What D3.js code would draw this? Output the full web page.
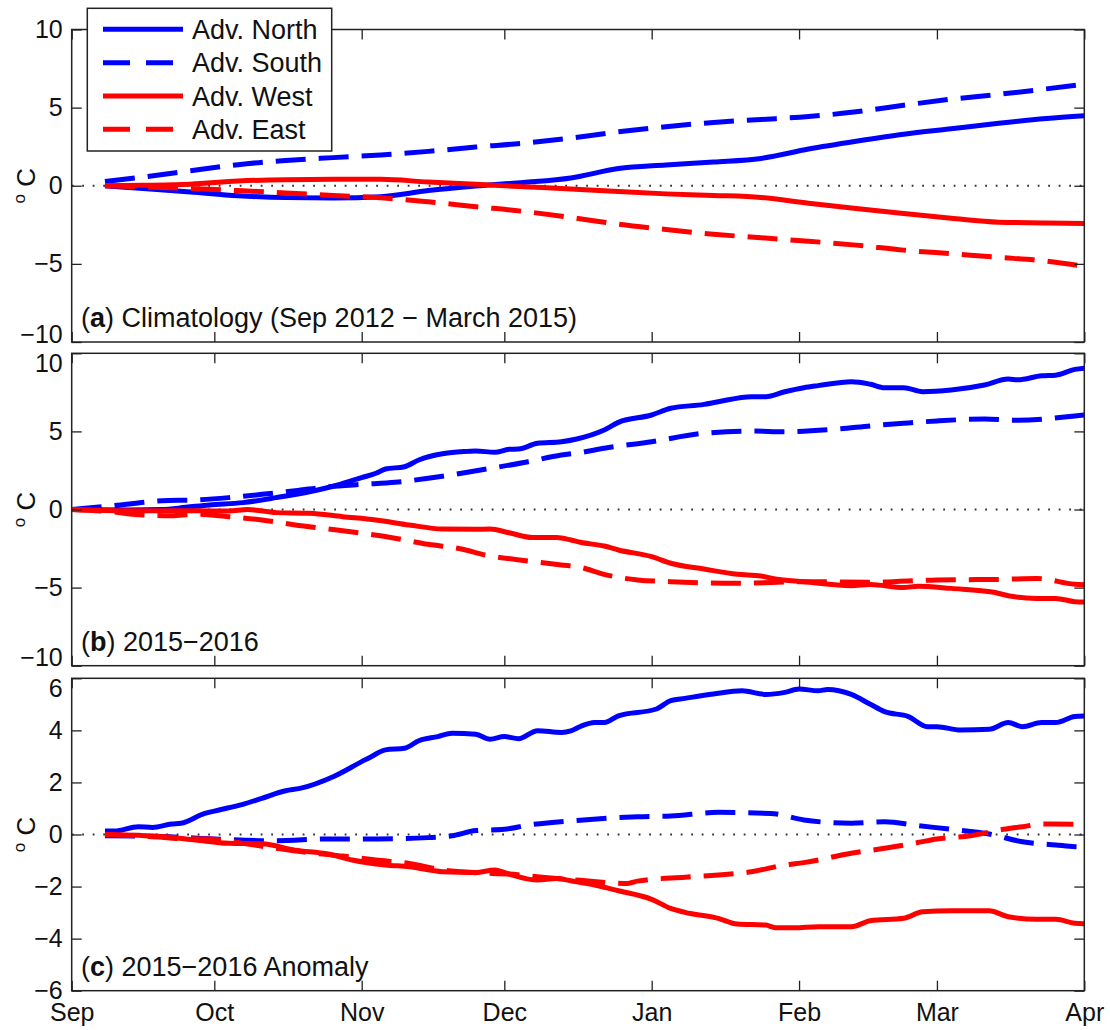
<!DOCTYPE html>
<html>
<head>
<meta charset="utf-8">
<script src="https://cdn.jsdelivr.net/npm/d3@7"></script>
<style>
  body { margin: 0; background: #fff; }
  text { font-family: "Liberation Sans", Arial, Helvetica, sans-serif; fill: #111; }
</style>
</head>
<body>
<svg id="chart" width="1110" height="1030"></svg>
<script>
// Time axis: days counted from 1 Sep 2015 up to 1 Apr 2016
const seasonStart = Date.UTC(2015, 8, 1);
const seasonEnd = Date.UTC(2016, 3, 1);
const monthLabels = ["Sep", "Oct", "Nov", "Dec", "Jan", "Feb", "Mar", "Apr"];

const seriesNames = ["Adv. North", "Adv. South", "Adv. West", "Adv. East"];
const seriesColors = ["#0000ff", "#0000ff", "#ff0000", "#ff0000"];
const seriesDashed = [false, true, false, true];

const yTicksWide = [-10, -5, 0, 5, 10];
const yTicksAnomaly = [-6, -4, -2, 0, 2, 4, 6];

// (a) climatology, Sep 2012 - March 2015  [day, °C]
const climNorth = [[7,0],[15,-0.18],[25,-0.4],[35,-0.64],[45,-0.76],[55,-0.78],[65,-0.7],[75,-0.31],[85,-0.02],[95,0.21],[105,0.5],[115,1.1],[125,1.33],[135,1.52],[145,1.75],[155,2.35],[165,2.85],[175,3.3],[185,3.65],[195,4.0],[205,4.3],[213,4.48]];
const climSouth = [[7,0.27],[15,0.56],[25,0.96],[35,1.35],[45,1.62],[55,1.8],[65,1.97],[75,2.2],[85,2.48],[95,2.72],[105,3.05],[115,3.45],[125,3.78],[135,4.05],[145,4.24],[155,4.43],[165,4.73],[175,5.15],[185,5.54],[195,5.85],[205,6.2],[213,6.5]];
const climWest = [[7,0],[15,0.03],[25,0.1],[35,0.3],[45,0.39],[55,0.41],[65,0.41],[75,0.24],[85,0.09],[95,-0.06],[105,-0.21],[115,-0.37],[125,-0.52],[135,-0.62],[145,-0.75],[155,-1.12],[165,-1.46],[175,-1.78],[185,-2.08],[195,-2.33],[205,-2.38],[213,-2.42]];
const climEast = [[7,0],[15,-0.08],[25,-0.18],[35,-0.31],[45,-0.46],[55,-0.62],[65,-0.77],[75,-1.03],[85,-1.34],[95,-1.64],[105,-2.03],[115,-2.46],[125,-2.8],[135,-3.1],[145,-3.33],[155,-3.55],[165,-3.8],[175,-4.12],[185,-4.35],[195,-4.58],[205,-4.82],[213,-5.15]];

// (b) 2015-2016  [day, °C]
const northSeason = [[0,0],[12,-0.03],[19,0],[24,0.14],[29,0.29],[36,0.44],[43,0.76],[50,1.14],[56,1.57],[61,2.04],[64,2.32],[66,2.59],[70,2.74],[73,3.17],[78,3.57],[82,3.7],[85,3.75],[89,3.66],[92,3.85],[94,3.87],[98,4.24],[103,4.34],[106,4.5],[112,5.09],[115,5.58],[122,6.05],[126,6.48],[133,6.73],[136,6.9],[143,7.22],[146,7.22],[150,7.54],[154,7.8],[157,7.93],[164,8.18],[168,8.02],[171,7.8],[175,7.8],[179,7.54],[185,7.65],[192,7.97],[197,8.35],[199,8.3],[204,8.56],[207,8.6],[211,8.97],[213,9.05]];
const southSeason = [[0,0],[8,0.22],[19,0.56],[26,0.61],[33,0.76],[40,0.97],[47,1.2],[54,1.46],[61,1.61],[68,1.74],[75,2.0],[82,2.32],[89,2.68],[96,3.06],[103,3.49],[107,3.65],[112,3.92],[122,4.34],[133,4.88],[143,5.02],[150,4.98],[161,5.15],[168,5.35],[175,5.52],[182,5.67],[192,5.79],[199,5.71],[211,5.99],[213,6.05]];
const westSeason = [[0,0],[12,-0.08],[26,-0.08],[33,-0.1],[37,0],[43,-0.2],[50,-0.24],[57,-0.46],[64,-0.67],[71,-0.99],[78,-1.25],[85,-1.27],[88,-1.25],[92,-1.49],[97,-1.8],[102,-1.8],[105,-1.95],[107,-2.1],[112,-2.34],[115,-2.59],[122,-3.02],[126,-3.44],[133,-3.81],[140,-4.15],[145,-4.26],[148,-4.45],[154,-4.62],[164,-4.88],[168,-4.8],[175,-5.0],[178,-4.91],[185,-5.05],[194,-5.3],[197,-5.52],[203,-5.69],[207,-5.69],[211,-5.9],[213,-5.92]];
const eastSeason = [[0,0],[8,-0.14],[15,-0.35],[21,-0.4],[26,-0.3],[33,-0.46],[40,-0.67],[47,-0.99],[54,-1.25],[61,-1.52],[68,-1.84],[75,-2.23],[82,-2.53],[87,-2.91],[96,-3.3],[103,-3.55],[107,-3.7],[112,-4.15],[119,-4.51],[126,-4.62],[140,-4.72],[154,-4.62],[168,-4.66],[182,-4.51],[196,-4.47],[203,-4.41],[211,-4.79],[213,-4.82]];

// (c) 2015-2016 anomaly  [day, °C]
const northAnom = [[7,0.13],[9,0.13],[14,0.3],[17,0.27],[21,0.4],[23,0.43],[28,0.81],[31,0.94],[36,1.16],[40,1.39],[45,1.68],[48,1.77],[55,2.22],[61,2.8],[63,2.99],[66,3.25],[70,3.31],[73,3.6],[77,3.76],[80,3.89],[85,3.85],[88,3.66],[91,3.76],[94,3.68],[98,3.99],[103,3.92],[105,3.98],[107,4.15],[110,4.3],[112,4.3],[115,4.56],[123,4.82],[126,5.14],[129,5.23],[135,5.4],[141,5.52],[146,5.38],[150,5.46],[153,5.59],[157,5.52],[159,5.57],[164,5.38],[168,5.0],[171,4.72],[176,4.53],[180,4.14],[182,4.14],[187,4.01],[193,4.04],[197,4.3],[200,4.14],[204,4.3],[207,4.3],[211,4.53],[213,4.55]];
const southAnom = [[7,-0.05],[19,-0.08],[31,-0.18],[43,-0.24],[54,-0.17],[64,-0.17],[75,-0.12],[80,-0.05],[85,0.15],[91,0.2],[96,0.36],[107,0.55],[119,0.68],[126,0.71],[136,0.85],[147,0.81],[154,0.56],[164,0.43],[171,0.49],[178,0.34],[185,0.2],[193,0.02],[200,-0.28],[207,-0.4],[211,-0.47],[213,-0.48]];
const westAnom = [[7,0],[19,-0.08],[26,-0.21],[33,-0.34],[40,-0.36],[47,-0.6],[54,-0.75],[59,-0.98],[66,-1.17],[71,-1.24],[78,-1.43],[85,-1.46],[89,-1.36],[92,-1.52],[98,-1.75],[102,-1.69],[105,-1.78],[110,-1.94],[115,-2.16],[122,-2.49],[126,-2.84],[129,-2.99],[136,-3.22],[140,-3.44],[146,-3.48],[148,-3.58],[152,-3.58],[157,-3.54],[164,-3.54],[168,-3.31],[175,-3.22],[179,-2.97],[185,-2.93],[193,-2.93],[197,-3.16],[203,-3.26],[207,-3.26],[211,-3.41],[213,-3.43]];
const eastAnom = [[7,0],[19,-0.11],[22,-0.15],[29,-0.17],[36,-0.34],[43,-0.53],[50,-0.7],[57,-0.83],[64,-0.98],[71,-1.11],[78,-1.36],[85,-1.47],[92,-1.52],[99,-1.64],[107,-1.76],[117,-1.88],[119,-1.79],[129,-1.64],[136,-1.56],[143,-1.43],[150,-1.17],[154,-1.08],[164,-0.72],[171,-0.53],[178,-0.31],[182,-0.17],[189,-0.05],[196,0.2],[200,0.3],[204,0.4],[211,0.39],[213,0.38]];

// nudgeTop / nudgeBottom keep the extreme tick labels clear of the neighbouring panels
const panels = [
  { tag: "a", title: " Climatology (Sep 2012 \u2212 March 2015)", domain: [-10, 10], ticks: yTicksWide,
    series: [climNorth, climSouth, climWest, climEast], top: 29.5, bottom: 342, nudgeTop: 0, nudgeBottom: -8 },
  { tag: "b", title: " 2015\u22122016", domain: [-10, 10], ticks: yTicksWide,
    series: [northSeason, southSeason, westSeason, eastSeason], top: 353.3, bottom: 665.7, nudgeTop: 10, nudgeBottom: -8 },
  { tag: "c", title: " 2015\u22122016 Anomaly", domain: [-6, 6], ticks: yTicksAnomaly,
    series: [northAnom, southAnom, westAnom, eastAnom], top: 678.3, bottom: 990.7, nudgeTop: 10, nudgeBottom: 0 }
];

const left = 71.7, right = 1084.3;
const svg = d3.select("#chart");
const x = d3.scaleUtc().domain([seasonStart, seasonEnd]).range([left, right]);
const dayToDate = d => new Date(seasonStart + d * 86400000);
const monthTicks = d3.utcMonth.range(seasonStart, seasonEnd + 1);

const frameColor = "#222";
const tickFont = 25;
const textFont = 27;

panels.forEach((p, pi) => {
  const y = d3.scaleLinear().domain(p.domain).range([p.bottom, p.top]);
  const g = svg.append("g");

  // zero reference line
  g.append("line")
    .attr("x1", x(seasonStart)).attr("x2", x(seasonEnd))
    .attr("y1", y(0)).attr("y2", y(0))
    .attr("stroke", "#333").attr("stroke-width", 1.8)
    .attr("stroke-dasharray", "1.8 8.7");

  // series lines
  const line = d3.line()
    .x(d => x(dayToDate(d[0])))
    .y(d => y(d[1]))
    .curve(d3.curveMonotoneX);

  p.series.forEach((data, si) => {
    g.append("path")
      .datum(data)
      .attr("d", line)
      .attr("fill", "none")
      .attr("stroke", seriesColors[si])
      .attr("stroke-width", 5)
      .attr("stroke-linejoin", "round")
      .attr("stroke-dasharray", seriesDashed[si] ? "30 13" : null);
  });

  // axes with inward ticks
  const styleAxis = sel => {
    sel.select(".domain").remove();
    sel.selectAll(".tick line").attr("stroke", frameColor).attr("stroke-width", 1.3);
    sel.selectAll(".tick text").attr("font-size", tickFont)
      .attr("font-family", "'Liberation Sans', Arial, sans-serif").attr("fill", "#111");
  };

  const yMax = d3.max(p.ticks), yMin = d3.min(p.ticks);
  g.append("g").attr("transform", `translate(${left},0)`)
    .call(d3.axisLeft(y).tickValues(p.ticks).tickSize(-10).tickPadding(9)
      .tickFormat(d => d < 0 ? "\u2212" + Math.abs(d) : String(d)))
    .call(styleAxis)
    .call(sel => sel.selectAll(".tick text")
      .attr("y", d => d === yMax ? p.nudgeTop : d === yMin ? p.nudgeBottom : 0));
  g.append("g").attr("transform", `translate(${right},0)`)
    .call(d3.axisRight(y).tickValues(p.ticks).tickSize(-10).tickFormat(""))
    .call(styleAxis);
  g.append("g").attr("transform", `translate(0,${p.top})`)
    .call(d3.axisTop(x).tickValues(monthTicks).tickSize(-10).tickFormat(""))
    .call(styleAxis);
  const isLast = pi === panels.length - 1;
  g.append("g").attr("transform", `translate(0,${p.bottom})`)
    .call(d3.axisBottom(x).tickValues(monthTicks).tickSize(-10).tickPadding(13)
      .tickFormat((d, i) => isLast ? monthLabels[i] : ""))
    .call(styleAxis);

  // frame
  g.append("rect")
    .attr("x", left).attr("y", p.top)
    .attr("width", right - left).attr("height", p.bottom - p.top)
    .attr("fill", "none").attr("stroke", frameColor).attr("stroke-width", 1.5);

  // panel title
  const t = g.append("text")
    .attr("x", 81).attr("y", p.bottom - 15)
    .attr("font-size", textFont);
  t.append("tspan").text("(");
  t.append("tspan").attr("font-weight", "bold").text(p.tag);
  t.append("tspan").text(")" + p.title);

  // unit label
  const cy = (p.top + p.bottom) / 2;
  const u = g.append("text")
    .attr("transform", `translate(35,${cy}) rotate(-90)`)
    .attr("text-anchor", "middle")
    .attr("font-size", 26);
  u.append("tspan").attr("font-size", 17).attr("dy", -10).text("o");
  u.append("tspan").attr("dy", 10).text("\u00a0C");
});

// legend
const legend = svg.append("g");
legend.append("rect")
  .attr("x", 87.3).attr("y", 8.3).attr("width", 244.4).attr("height", 142.7)
  .attr("fill", "#fff").attr("stroke", frameColor).attr("stroke-width", 1.5);
seriesNames.forEach((name, i) => {
  const cy = 29.3 + i * 33.35;
  legend.append("line")
    .attr("x1", 103).attr("x2", 183).attr("y1", cy).attr("y2", cy)
    .attr("stroke", seriesColors[i]).attr("stroke-width", 5)
    .attr("stroke-dasharray", seriesDashed[i] ? "27 16" : null);
  legend.append("text")
    .attr("x", 192).attr("y", cy + 9.8)
    .attr("font-size", textFont)
    .text(name);
});
</script>
</body>
</html>
